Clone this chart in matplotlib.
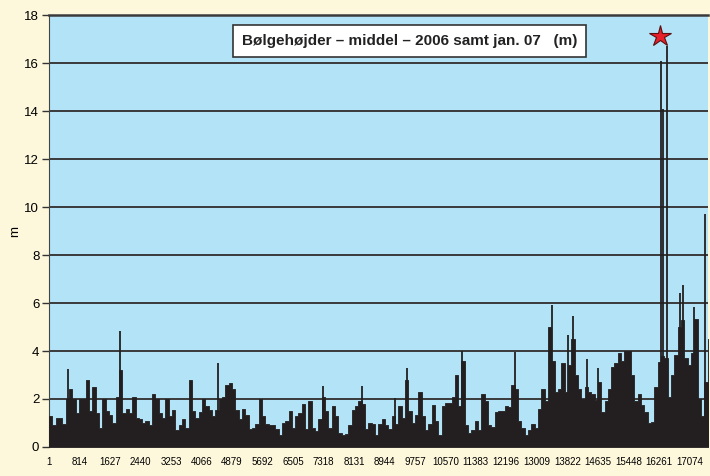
import numpy as np
import matplotlib.pyplot as plt

# mean wave height (m), one reading per ~89 records
wave_h = [
    1.3, 0.9, 1.2, 1.2, 0.95, 2.0, 2.4, 2.0, 1.4, 2.0, 2.0, 2.8, 1.5, 2.5, 1.4, 0.8,
    2.0, 1.5, 1.35, 1.0, 2.1, 3.2, 1.4, 1.6, 1.4, 2.1, 1.2, 1.15, 1.0, 1.1, 0.9, 2.2,
    2.0, 1.4,
    1.2, 2.0, 1.3, 1.55, 0.7, 0.9, 1.15, 0.8, 2.8, 1.5, 1.2, 1.45, 2.0, 1.7, 1.55, 1.3,
    1.55, 2.0, 2.1, 2.6, 2.65, 2.4, 1.55, 1.15, 1.6, 1.35, 0.75, 0.8, 0.95, 2.0, 1.3,
    0.95, 0.9, 0.9,
    0.75, 0.5, 1.0, 1.1, 1.5, 0.8, 1.3, 1.4, 1.8, 0.75, 1.9, 0.8, 0.65, 1.15, 2.1, 1.5,
    0.8, 1.7, 1.3, 0.6, 0.5, 0.55, 0.9, 1.55, 1.7, 1.9, 1.8, 0.75, 1.0, 0.95, 0.5, 0.95,
    1.15, 0.9, 0.75,
    1.3, 0.95, 1.7, 1.2, 2.8, 1.5, 1.0, 1.35, 2.3, 1.3, 0.7, 0.95, 1.75, 1.1, 0.5, 1.7,
    1.85, 1.85, 2.1, 3.0, 1.7, 3.6, 0.9, 0.6, 0.7, 1.1, 0.7, 2.2, 1.9, 0.9, 0.85, 1.45,
    1.5, 1.5,
    1.7, 1.65, 2.6, 2.4, 1.1, 0.8, 0.5, 0.7, 0.95, 0.8, 1.6, 2.4, 1.9, 5.0, 3.6, 2.3,
    2.4, 3.5, 2.3, 3.4, 4.5, 3.0, 2.4, 2.0, 2.5, 2.3, 2.2, 1.95, 2.7, 1.45, 1.9, 2.4,
    3.35, 3.5, 3.9, 3.6, 4.0, 4.0, 3.0, 1.9, 2.2, 1.75, 1.45, 1.0, 1.05, 2.5, 3.55, 3.8,
    3.7, 2.1, 3.0, 3.85, 5.0, 5.3, 3.7, 3.4, 3.9, 5.35, 2.0, 1.3, 2.7, 4.5,
]
rec_step = 88.7

# single-record peaks
spike_rec = [498, 1890, 4507, 7302, 8351, 9219, 9549, 11013, 12424, 13424, 13850,
             13984, 14356, 14641, 16326, 16363, 16478, 16824, 16912, 17197, 17490]
spike_h = [3.25, 4.85, 3.5, 2.55, 2.55, 2.05, 3.3, 4.0, 3.95, 5.9, 4.65,
           5.45, 3.65, 3.3, 16.1, 14.1, 16.7, 6.4, 6.75, 5.85, 9.7]

star_rec, star_h = 16300, 17.15

xtick_vals = [1, 814, 1627, 2440, 3253, 4066, 4879, 5692, 6505, 7318, 8131, 8944,
              9757, 10570, 11383, 12196, 13009, 13822, 14635, 15448, 16261, 17074]

sans = ["Liberation Sans", "DejaVu Sans"]

fig = plt.figure(figsize=(7.1, 4.76), dpi=100, facecolor="#fdf8dc")
ax = fig.add_axes([0.069, 0.061, 0.928, 0.907])
ax.set_facecolor("#b3e3f7")

rec = 1 + np.arange(len(wave_h)) * rec_step
h = np.array(wave_h)
ax.fill_between(np.append(rec, rec[-1] + rec_step), np.append(h, h[-1]), step="post",
                color="#231f20", lw=0.6, zorder=3)
ax.vlines(spike_rec, 0, spike_h, color="#231f20", lw=1.3, zorder=3)
ax.plot(star_rec, star_h, marker="*", ms=16, color="#e8202a", mec="#5a1010", mew=0.8,
        zorder=4, clip_on=False)

ax.set_xlim(0, 17570)
ax.set_ylim(0, 18)
ax.set_yticks(range(0, 19, 2))
ax.set_xticks(xtick_vals)
ax.set_xticklabels([str(v) for v in xtick_vals], family=sans, fontsize=7)
ax.set_yticklabels([str(v) for v in range(0, 19, 2)], family=sans, fontsize=9.5)
ax.tick_params(axis="x", length=0, pad=7)
ax.tick_params(axis="y", length=5, width=1, color="#333333", pad=2)
ax.grid(axis="y", color="#3a3a3a", lw=1.4, zorder=1)
ax.set_axisbelow(True)
for side in ["right", "bottom"]:
    ax.spines[side].set_visible(False)
ax.spines["left"].set_color("#444444")
ax.spines["top"].set_color("#3a3a3a")
ax.spines["top"].set_linewidth(1.8)
ax.set_ylabel("m", family=sans, fontsize=9.5, labelpad=2)

ax.text(0.547, 0.94, "Bølgehøjder – middel – 2006 samt jan. 07   (m)",
        transform=ax.transAxes, ha="center", va="center", fontsize=11,
        fontweight="bold", family=sans, color="#222222",
        bbox=dict(boxstyle="square,pad=0.6", fc="white", ec="#333333", lw=1.2),
        zorder=5)

fig.savefig("out.png", dpi=100, facecolor=fig.get_facecolor())
